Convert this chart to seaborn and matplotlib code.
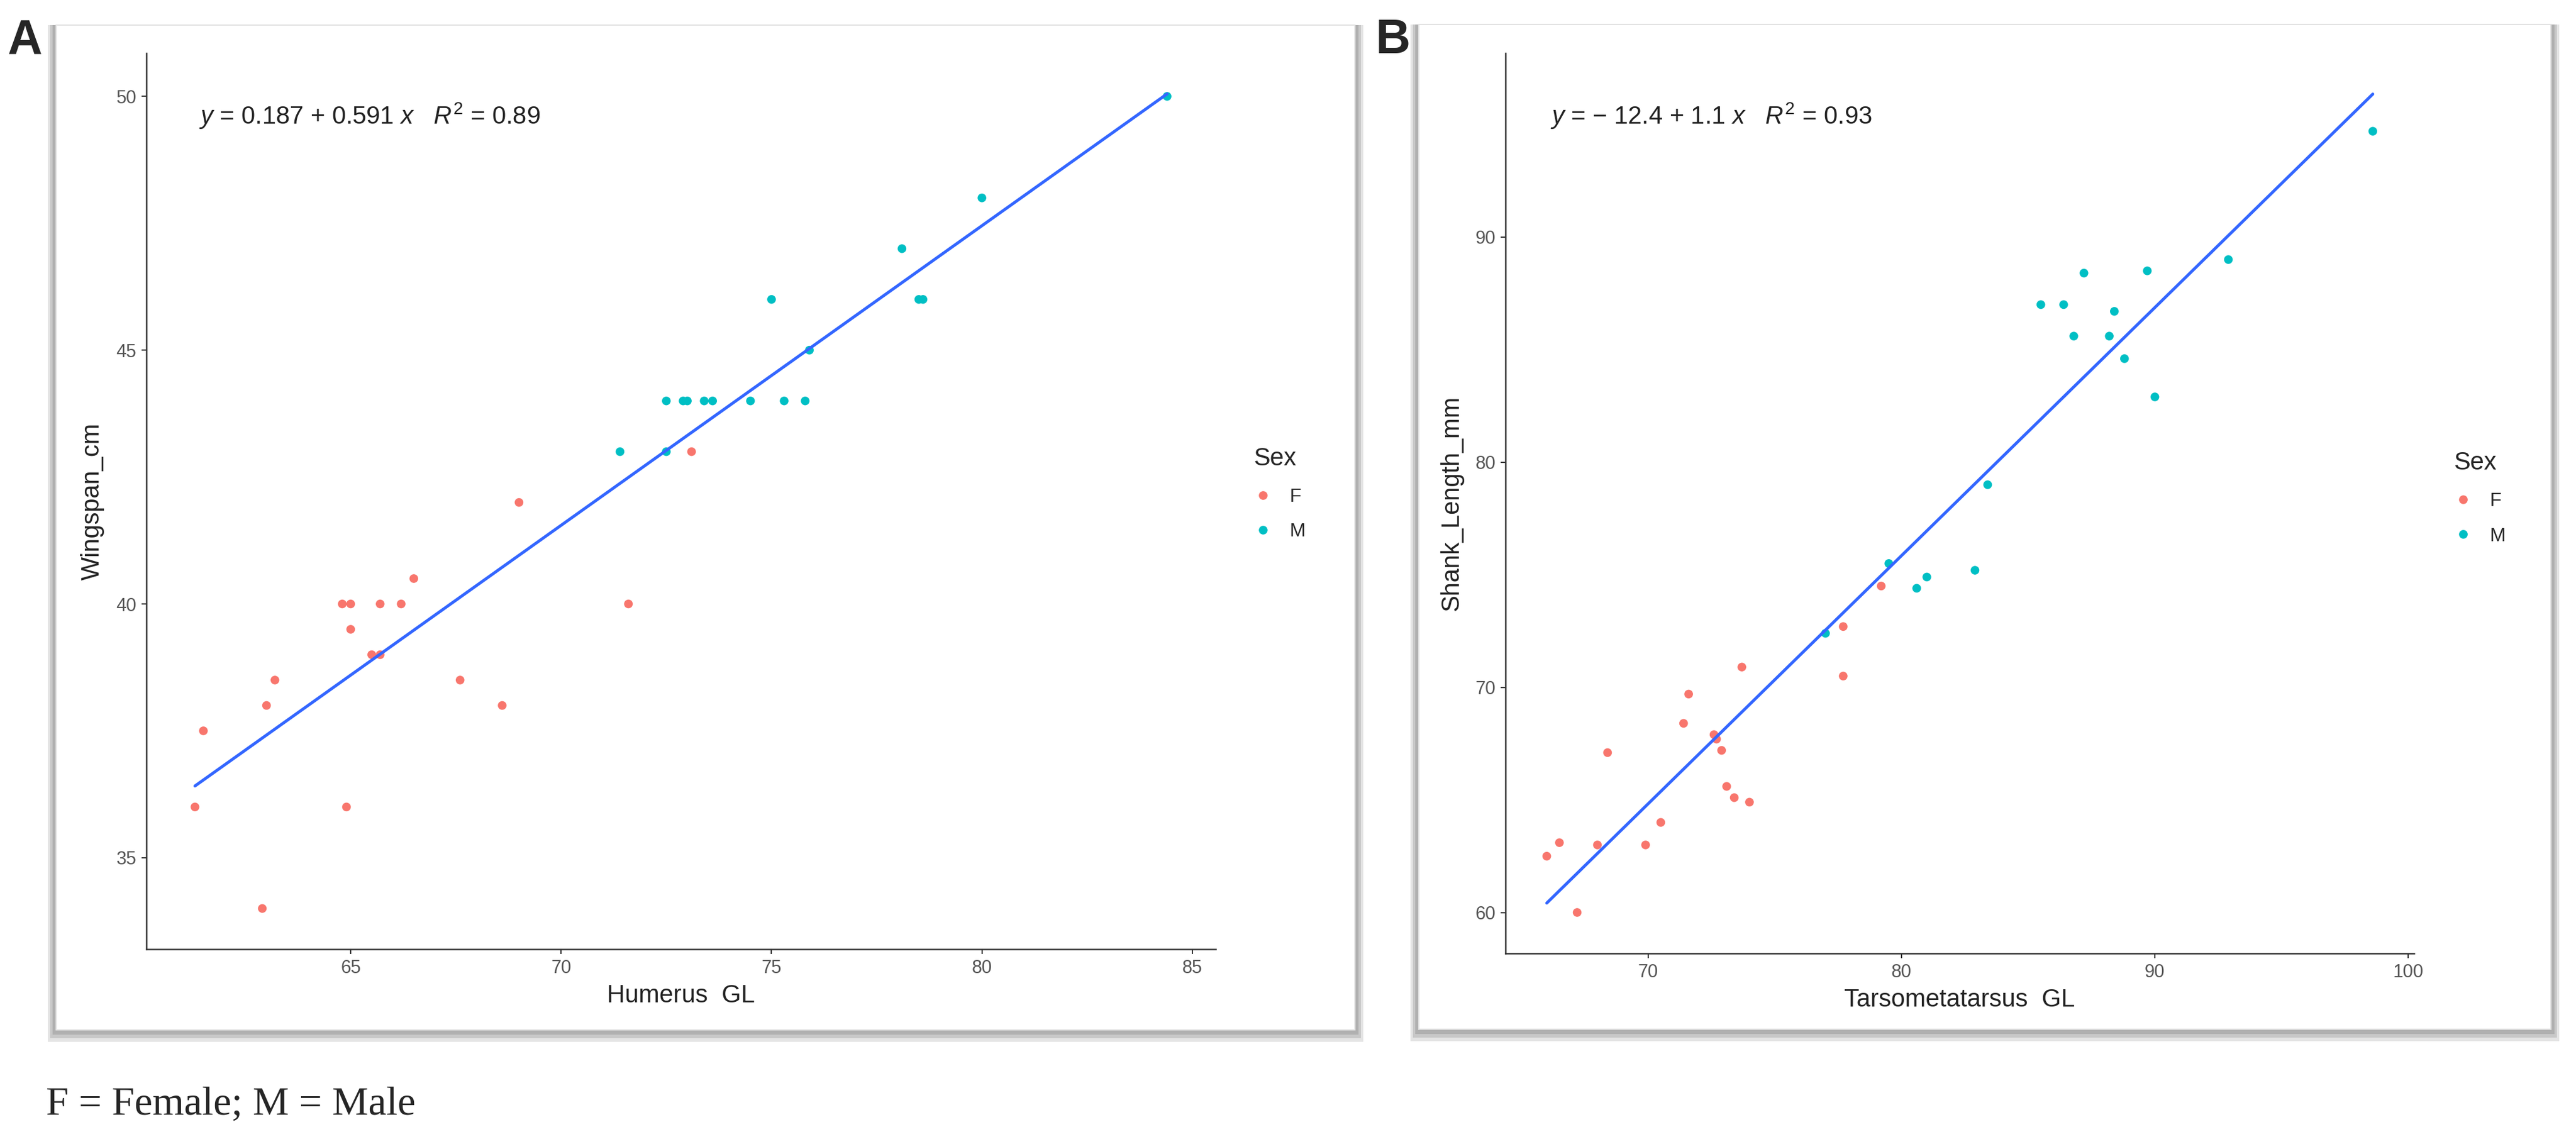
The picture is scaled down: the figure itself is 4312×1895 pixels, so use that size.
import numpy as np
import pandas as pd
import matplotlib
matplotlib.use("Agg")
import matplotlib.pyplot as plt
import seaborn as sns
from matplotlib.patches import Rectangle

# Panel A: humerus vs wingspan
hum_f = [61.3, 61.5, 63.0, 63.2, 62.9, 64.8, 65.0, 65.0, 64.9, 65.5, 65.7, 65.7, 66.2, 66.5, 67.6, 68.6, 69.0, 71.6, 73.1]
wing_f = [36.0, 37.5, 38.0, 38.5, 34.0, 40.0, 40.0, 39.5, 36.0, 39.0, 39.0, 40.0, 40.0, 40.5, 38.5, 38.0, 42.0, 40.0, 43.0]
hum_m = [71.4, 72.5, 72.5, 72.9, 73.0, 73.4, 73.6, 74.5, 75.3, 75.8, 75.9, 75.0, 78.1, 78.5, 78.6, 80.0, 84.4]
wing_m = [43.0, 43.0, 44.0, 44.0, 44.0, 44.0, 44.0, 44.0, 44.0, 44.0, 45.0, 46.0, 47.0, 46.0, 46.0, 48.0, 50.0]

# Panel B: tarsometatarsus vs shank length
tar_f = [66.0, 66.5, 67.2, 68.0, 68.4, 69.9, 70.5, 71.4, 71.6, 72.6, 72.7, 72.9, 73.1, 73.4, 74.0, 73.7, 77.7, 77.7, 79.2]
shank_f = [62.5, 63.1, 60.0, 63.0, 67.1, 63.0, 64.0, 68.4, 69.7, 67.9, 67.7, 67.2, 65.6, 65.1, 64.9, 70.9, 72.7, 70.5, 74.5]
tar_m = [77.0, 79.5, 80.6, 81.0, 82.9, 83.4, 85.5, 86.4, 86.8, 87.2, 88.2, 88.4, 88.8, 89.7, 90.0, 92.9, 98.6]
shank_m = [72.4, 75.5, 74.4, 74.9, 75.2, 79.0, 87.0, 87.0, 85.6, 88.4, 85.6, 86.7, 84.6, 88.5, 82.9, 89.0, 94.7]

df_a = pd.DataFrame({"Humerus_GL": hum_f + hum_m, "Wingspan_cm": wing_f + wing_m,
                     "Sex": ["F"] * len(hum_f) + ["M"] * len(hum_m)})
df_b = pd.DataFrame({"Tarsometatarsus_GL": tar_f + tar_m, "Shank_Length_mm": shank_f + shank_m,
                     "Sex": ["F"] * len(tar_f) + ["M"] * len(tar_m)})

palette = {"F": "#F8766D", "M": "#00BFC4"}

sns.set_style("ticks")
plt.rcParams["font.family"] = ["Liberation Sans", "DejaVu Sans"]
plt.rcParams["mathtext.fontset"] = "custom"
plt.rcParams["mathtext.it"] = "Liberation Sans:italic"
plt.rcParams["mathtext.rm"] = "Liberation Sans"

W, H = 4312, 1895
fig = plt.figure(figsize=(W / 100, H / 100), dpi=100)
fig.patch.set_facecolor("white")


def frame(x0, y0, x1, y1):
    # grey shadowed frame round each panel (pixel coords, top-left origin)
    for pad, col in [(14, "#e4e4e4"), (10, "#c8c8c8"), (6, "#b0b0b0")]:
        fig.patches.append(Rectangle(((x0 - pad) / W, 1 - (y1 + pad * 1.4) / H),
                                     (x1 - x0 + 2 * pad) / W, (y1 + pad * 1.4 - y0) / H,
                                     transform=fig.transFigure, facecolor=col,
                                     edgecolor="none", zorder=-5))
    fig.patches.append(Rectangle((x0 / W, 1 - y1 / H), (x1 - x0) / W, (y1 - y0) / H,
                                 transform=fig.transFigure, facecolor="white",
                                 edgecolor="#e2e2e2", lw=1.5, zorder=-4))


frame(94, 42, 2268, 1724)
frame(2375, 41, 4270, 1723)


def expand(lo, hi, f=0.05):
    d = (hi - lo) * f
    return lo - d, hi + d


def panel(ax, df, xcol, ycol, xlabel, ylabel, eq, leg_xy):
    sns.scatterplot(data=df, x=xcol, y=ycol, hue="Sex", palette=palette,
                    s=110, linewidth=0, ax=ax, zorder=3)
    sns.regplot(data=df, x=xcol, y=ycol, scatter=False, ci=None, ax=ax,
                line_kws={"color": "#3366FF", "lw": 3.6, "zorder": 4})
    slope, icpt = np.polyfit(df[xcol], df[ycol], 1)
    xs = df[xcol]
    fit_y = icpt + slope * np.array([xs.min(), xs.max()])
    ax.set_xlim(*expand(xs.min(), xs.max()))
    ax.set_ylim(*expand(min(df[ycol].min(), fit_y.min()), max(df[ycol].max(), fit_y.max())))
    for s in ["top", "right"]:
        ax.spines[s].set_visible(False)
    for s in ["left", "bottom"]:
        ax.spines[s].set_color("#333333")
        ax.spines[s].set_linewidth(1.8)
    ax.tick_params(colors="#333333", labelcolor="#555555", labelsize=22,
                   length=6, width=1.5, pad=6)
    ax.set_xlabel(xlabel, fontsize=30, color="#222222", labelpad=8)
    ax.set_ylabel(ylabel, fontsize=30, color="#222222", labelpad=14)
    ax.text(0.049, 0.93, eq, transform=ax.transAxes, fontsize=30,
            color="#222222", va="center", ha="left")
    handles, labels = ax.get_legend_handles_labels()
    ax.legend(handles, labels, title="Sex", loc="upper left",
              bbox_to_anchor=(leg_xy[0] / W, 1 - leg_xy[1] / H),
              bbox_transform=fig.transFigure, frameon=False, fontsize=23,
              title_fontsize=30, handlelength=1.0, handletextpad=0.9,
              labelspacing=0.9, borderpad=0, borderaxespad=0, markerscale=1.0)
    ax.get_legend()._legend_box.align = "left"
    ax.set_facecolor("none")


ax_a = fig.add_axes([245 / W, 1 - 1589 / H, (2035 - 245) / W, (1589 - 89) / H])
panel(ax_a, df_a, "Humerus_GL", "Wingspan_cm", "Humerus  GL", "Wingspan_cm",
      r"$y$ = 0.187 + 0.591 $x$   $R^2$ = 0.89", (2098, 748))
ax_a.set_xticks([65, 70, 75, 80, 85])
ax_a.set_yticks([35, 40, 45, 50])

ax_b = fig.add_axes([2520 / W, 1 - 1596 / H, (4041 - 2520) / W, (1596 - 89) / H])
panel(ax_b, df_b, "Tarsometatarsus_GL", "Shank_Length_mm", "Tarsometatarsus  GL", "Shank_Length_mm",
      r"$y$ = $-$ 12.4 + 1.1 $x$   $R^2$ = 0.93", (4107, 755))
ax_b.set_xticks([70, 80, 90, 100])
ax_b.set_yticks([60, 70, 80, 90])

fig.text(13 / W, 1 - 89 / H, "A", fontsize=58, fontweight="bold", va="baseline", ha="left")
fig.text(2303 / W, 1 - 89 / H, "B", fontsize=58, fontweight="bold", va="baseline", ha="left")
fig.text(77 / W, 1 - 1866 / H, "F = Female; M = Male", fontsize=49,
         family=["Liberation Serif", "DejaVu Serif"], va="baseline", ha="left")

fig.savefig("out.png", dpi=100, facecolor="white")
